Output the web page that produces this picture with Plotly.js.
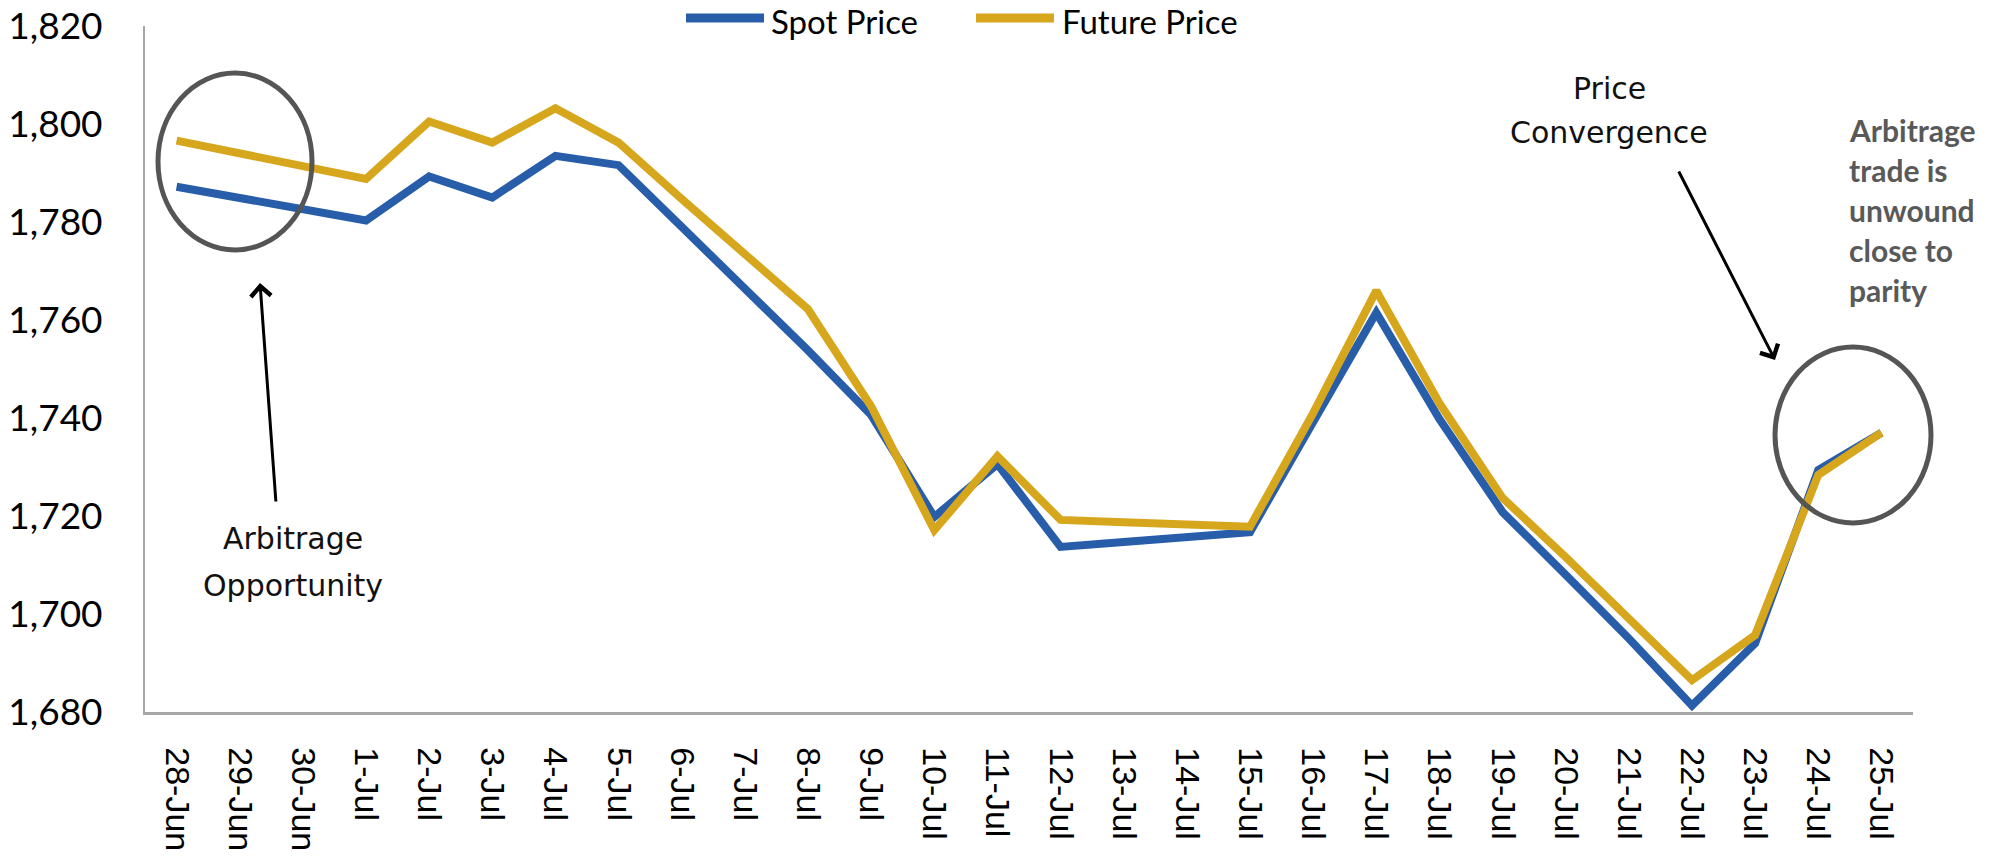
<!DOCTYPE html>
<html>
<head>
<meta charset="utf-8">
<script src="https://cdn.plot.ly/plotly-3.0.1.min.js"></script>
<style>
html, body { margin: 0; padding: 0; background: #ffffff; }
#chart { width: 1993px; height: 856px; }
</style>
</head>
<body>
<div id="chart"></div>
<script>
// ---- data ----
const categories = ['28-Jun', '29-Jun', '30-Jun', '1-Jul', '2-Jul', '3-Jul', '4-Jul', '5-Jul',
  '6-Jul', '7-Jul', '8-Jul', '9-Jul', '10-Jul', '11-Jul', '12-Jul', '13-Jul', '14-Jul',
  '15-Jul', '16-Jul', '17-Jul', '18-Jul', '19-Jul', '20-Jul', '21-Jul', '22-Jul', '23-Jul',
  '24-Jul', '25-Jul'];

const spotPrice = [1787.2, 1785.0, 1782.6, 1780.3, 1789.3, 1785.0, 1793.5, 1791.6,
  1779.0, 1766.4, 1753.8, 1740.6, 1719.8, 1730.6, 1713.7, 1714.7, 1715.7,
  1716.7, 1739.2, 1761.5, 1739.8, 1720.8, 1708.0, 1695.0, 1681.3, 1694.0,
  1729.4, 1737.0];

const futurePrice = [1796.6, 1794.0, 1791.4, 1788.8, 1800.5, 1796.2, 1803.2, 1796.2,
  1784.7, 1773.5, 1762.2, 1742.4, 1717.1, 1732.2, 1719.2, 1718.7, 1718.3,
  1717.8, 1741.0, 1766.0, 1743.0, 1723.7, 1711.6, 1699.2, 1686.5, 1695.7,
  1728.4, 1737.0];

const seriesNames = ['Spot Price', 'Future Price'];
const seriesColors = ['#285DA9', '#D6A61C'];
const yTickValues = [1680, 1700, 1720, 1740, 1760, 1780, 1800, 1820];
const yTickLabels = ['1,680', '1,700', '1,720', '1,740', '1,760', '1,780', '1,800', '1,820'];

const leftNoteLines = ['Arbitrage', 'Opportunity'];
const midNoteLines = ['Price', 'Convergence'];
const rightNoteLines = ['Arbitrage', 'trade is', 'unwound', 'close to', 'parity'];

// ---- geometry helpers (plot area in px) ----
const W = 1993, H = 856;
const M = { l: 145, r: 80, t: 26, b: 144, autoexpand: false };
const PW = W - M.l - M.r, PH = H - M.t - M.b;
const px = x => (x - M.l) / PW;
const py = y => (M.t + PH - y) / PH;

const traces = seriesNames.map((name, i) => ({
  x: categories, y: i === 0 ? spotPrice : futurePrice, name: name,
  type: 'scatter', mode: 'lines',
  line: { color: seriesColors[i], width: 8 }, cliponaxis: false, showlegend: false
}));

const annotations = [];
const shapes = [];

// legend drawn as key lines + labels across the top
const legendKeyX = [686, 976];
const legendTextX = [770, 1061];
seriesNames.forEach((name, i) => {
  shapes.push({
    type: 'line', xref: 'paper', yref: 'paper',
    x0: px(legendKeyX[i]), x1: px(legendKeyX[i] + 78), y0: py(18), y1: py(18),
    line: { color: seriesColors[i], width: 9 }
  });
  annotations.push({
    xref: 'paper', yref: 'paper', x: px(legendTextX[i]), y: py(0), text: name,
    showarrow: false, xanchor: 'left', yanchor: 'top', borderpad: 0,
    font: { family: 'Lato', size: 33, color: '#000000' }
  });
});

const noteFontA = { family: 'DejaVu Sans', size: 30, color: '#111111' };
leftNoteLines.forEach((t, i) => annotations.push({
  xref: 'paper', yref: 'paper', x: px(293), y: py(538 + i * 47), text: t,
  showarrow: false, xanchor: 'center', yanchor: 'middle', font: noteFontA
}));
midNoteLines.forEach((t, i) => annotations.push({
  xref: 'paper', yref: 'paper', x: px(1609), y: py(88 + i * 44), text: t,
  showarrow: false, xanchor: 'center', yanchor: 'middle', font: noteFontA
}));
rightNoteLines.forEach((t, i) => annotations.push({
  xref: 'paper', yref: 'paper', x: px(1847), y: py(130 + i * 40), text: '<b>' + t + '</b>',
  showarrow: false, xanchor: 'left', yanchor: 'middle',
  font: { family: 'Lato', size: 30, color: '#595959' }
}));
// arrows
annotations.push({
  xref: 'paper', yref: 'paper', x: px(260), y: py(283), text: '',
  showarrow: true, arrowhead: 4, arrowsize: 1.3, arrowwidth: 3, arrowcolor: '#000000',
  ax: 16, ay: 220, standoff: 0
});
annotations.push({
  xref: 'paper', yref: 'paper', x: px(1775), y: py(360), text: '',
  showarrow: true, arrowhead: 4, arrowsize: 1.3, arrowwidth: 3, arrowcolor: '#000000',
  ax: -97, ay: -190, standoff: 0
});

// highlight ellipses
shapes.push({
  type: 'circle', xref: 'paper', yref: 'paper',
  x0: px(158), x1: px(312), y0: py(250), y1: py(73),
  line: { color: '#555555', width: 5 }, fillcolor: 'rgba(0,0,0,0)'
});
shapes.push({
  type: 'circle', xref: 'paper', yref: 'paper',
  x0: px(1775), x1: px(1931), y0: py(523), y1: py(347),
  line: { color: '#555555', width: 5 }, fillcolor: 'rgba(0,0,0,0)'
});

const layout = {
  width: W, height: H,
  margin: M,
  paper_bgcolor: '#ffffff', plot_bgcolor: '#ffffff',
  showlegend: false,
  xaxis: {
    type: 'category', range: [-0.5, categories.length - 0.5],
    showline: true, linecolor: '#A6A6A6', linewidth: 2.5,
    showgrid: false, zeroline: false, ticks: '', tickangle: 90,
    ticklabelstandoff: 26, automargin: false,
    tickfont: { family: 'Liberation Sans', size: 34, color: '#000000' }
  },
  yaxis: {
    range: [1680, 1820], tickvals: yTickValues, ticktext: yTickLabels,
    showline: true, linecolor: '#A6A6A6', linewidth: 2,
    showgrid: false, zeroline: false, ticks: '',
    ticklabelstandoff: 33, automargin: false,
    tickfont: { family: 'Lato', size: 37, color: '#000000' }
  },
  annotations: annotations,
  shapes: shapes
};

Plotly.newPlot('chart', traces, layout, { displayModeBar: false, staticPlot: true });
</script>
</body>
</html>
